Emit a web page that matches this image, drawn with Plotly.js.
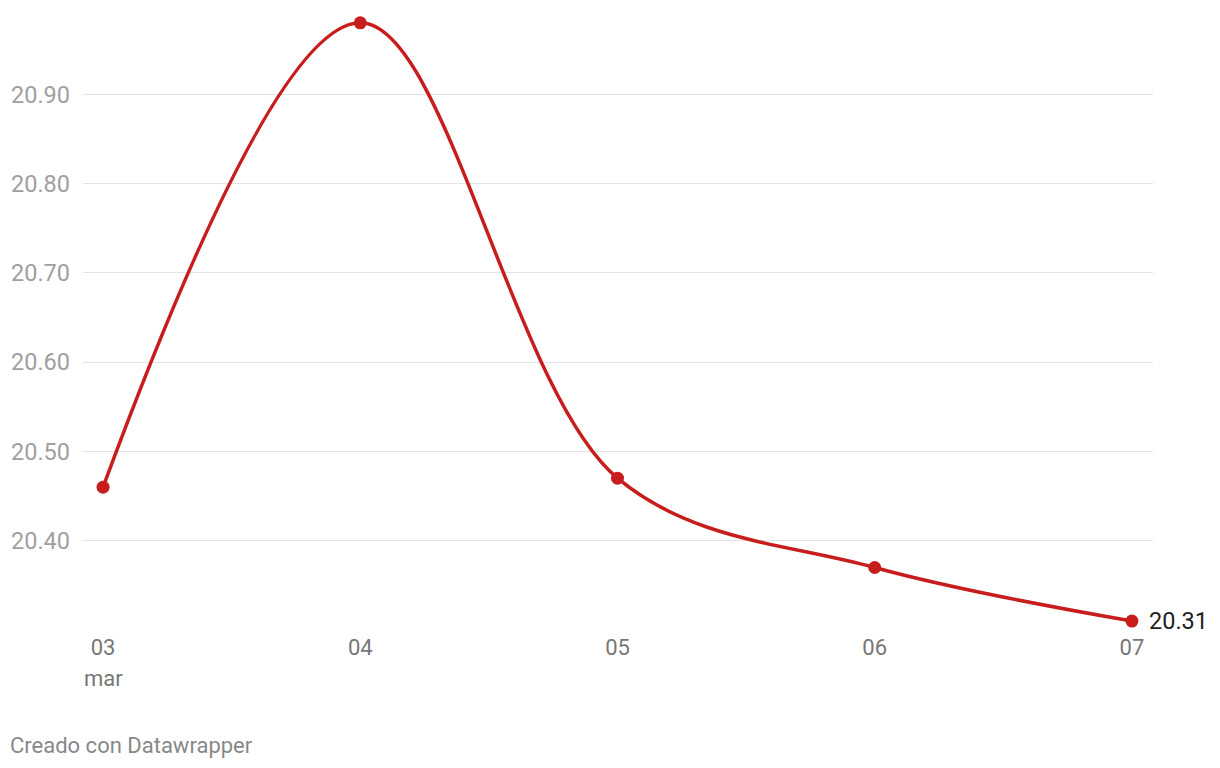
<!DOCTYPE html>
<html>
<head>
<meta charset="utf-8">
<script src="https://cdn.plot.ly/plotly-3.0.1.min.js"></script>
<style>
html,body{margin:0;padding:0;background:#fff;}
#chart{width:1220px;height:768px;}
</style>
</head>
<body>
<div id="chart"></div>
<script>
const days = ["03", "04", "05", "06", "07"];
const monthLabel = "mar";
const values = [20.46, 20.98, 20.47, 20.37, 20.31];
const yTicks = [20.40, 20.50, 20.60, 20.70, 20.80, 20.90];
const yTickText = ["20.40", "20.50", "20.60", "20.70", "20.80", "20.90"];
const lastLabel = "20.31";
const footer = "Creado con Datawrapper";

const red = "#c71e1d";
const font = "Roboto, 'Noto Sans', sans-serif";

const trace = {
  x: days,
  y: values,
  type: "scatter",
  mode: "lines+markers",
  line: {color: red, width: 3.5, shape: "spline", smoothing: 1},
  marker: {color: red, size: 13},
  hoverinfo: "skip",
  cliponaxis: false
};

const layout = {
  width: 1220,
  height: 768,
  margin: {l: 83, r: 67, t: 5, b: 137.5},
  paper_bgcolor: "#fff",
  plot_bgcolor: "#fff",
  showlegend: false,
  font: {family: font},
  xaxis: {
    type: "category",
    range: [-0.078, 4.082],
    showgrid: false,
    zeroline: false,
    showline: false,
    ticks: "",
    ticklabelstandoff: 2,
    tickfont: {size: 22, color: "#777777", family: font},
    fixedrange: true
  },
  yaxis: {
    range: [20.30, 21.00],
    tickvals: yTicks,
    ticktext: yTickText,
    showgrid: true,
    gridcolor: "#e3e3e3",
    gridwidth: 1,
    zeroline: false,
    showline: false,
    ticks: "",
    ticklabelstandoff: 12,
    tickfont: {size: 23.5, color: "#a0a0a0", family: font},
    fixedrange: true
  },
  annotations: [
    {
      x: 0, y: 0, xref: "x", yref: "paper",
      yshift: -48, text: monthLabel, showarrow: false,
      font: {size: 22, color: "#777777", family: font},
      xanchor: "center", yanchor: "middle"
    },
    {
      x: days.length - 1, y: values[values.length - 1], xref: "x", yref: "y",
      text: lastLabel, showarrow: false, xanchor: "left", yanchor: "middle",
      xshift: 15, font: {size: 23.5, color: "#222222", family: font}
    },
    {
      x: 0, y: 0, xref: "paper", yref: "paper",
      xshift: -75, yshift: -115, text: footer, showarrow: false,
      xanchor: "left", yanchor: "middle",
      font: {size: 22, color: "#888888", family: font}
    }
  ]
};

Plotly.newPlot("chart", [trace], layout, {displayModeBar: false, staticPlot: true});
</script>
</body>
</html>
